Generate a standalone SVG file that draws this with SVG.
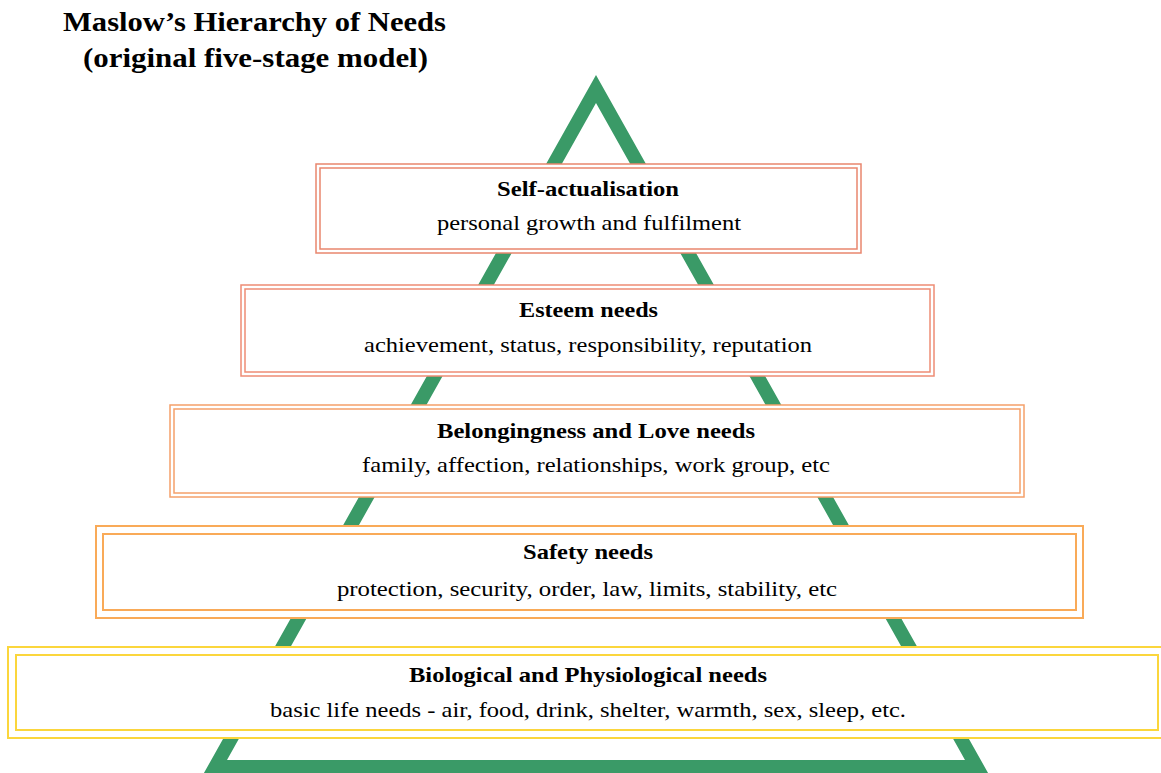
<svg xmlns="http://www.w3.org/2000/svg" width="1161" height="773" viewBox="0 0 1161 773">
<style>
text{font-family:'Liberation Serif','Times New Roman',Times,serif;fill:#000;text-anchor:middle}
.t{font-weight:bold;font-size:21px}
.s{font-weight:normal;font-size:21px}
.h{font-weight:bold;font-size:27px}
.o{fill:#fff}
.i{fill:none}
</style>
<rect width="1161" height="773" fill="#fff"/>
<g id="title" font-family="Liberation Serif, serif">
<text class="h" x="254.5" y="31" textLength="383" lengthAdjust="spacingAndGlyphs">Maslow’s Hierarchy of Needs</text>
<text class="h" x="255.5" y="67" textLength="345" lengthAdjust="spacingAndGlyphs">(original five-stage model)</text>
</g>
<g id="pyramid">
<path d="M596 75 L200 780 L992 780 Z M596 103 L227 760 L965 760 Z" fill="#3A9A67" fill-rule="evenodd"/>
</g>
<g id="self-actualisation">
<rect class="o" x="316" y="164" width="545" height="89" stroke="#E9866E" stroke-width="1.5"/>
<rect class="i" x="320" y="168" width="537" height="81" stroke="#E9866E" stroke-width="1.5"/>
<text class="t" x="588" y="196" textLength="182" lengthAdjust="spacingAndGlyphs">Self-actualisation</text>
<text class="s" x="589" y="230" textLength="304" lengthAdjust="spacingAndGlyphs">personal growth and fulfilment</text>
</g>
<g id="esteem">
<rect class="o" x="241" y="285" width="693" height="91" stroke="#EE8C74" stroke-width="1.5"/>
<rect class="i" x="245" y="289" width="685" height="83" stroke="#EE8C74" stroke-width="1.5"/>
<text class="t" x="588.5" y="317" textLength="139" lengthAdjust="spacingAndGlyphs">Esteem needs</text>
<text class="s" x="588" y="352" textLength="448" lengthAdjust="spacingAndGlyphs">achievement, status, responsibility, reputation</text>
</g>
<g id="belongingness">
<rect class="o" x="170" y="405" width="854" height="92" stroke="#F5A06A" stroke-width="1.5"/>
<rect class="i" x="174" y="409" width="846" height="84" stroke="#F5A06A" stroke-width="1.5"/>
<text class="t" x="596" y="438" textLength="318" lengthAdjust="spacingAndGlyphs">Belongingness and Love needs</text>
<text class="s" x="596" y="472" textLength="468" lengthAdjust="spacingAndGlyphs">family, affection, relationships, work group, etc</text>
</g>
<g id="safety">
<rect class="o" x="96" y="526" width="987" height="92" stroke="#F9AA58" stroke-width="2"/>
<rect class="i" x="103" y="534" width="973" height="76" stroke="#F9AA58" stroke-width="2"/>
<text class="t" x="588" y="559" textLength="130" lengthAdjust="spacingAndGlyphs">Safety needs</text>
<text class="s" x="587" y="596" textLength="500" lengthAdjust="spacingAndGlyphs">protection, security, order, law, limits, stability, etc</text>
</g>
<g id="biological">
<rect class="o" x="8" y="647" width="1160" height="91" stroke="#FBD63C" stroke-width="2"/>
<rect class="i" x="16" y="655" width="1142" height="75" stroke="#FBD63C" stroke-width="2"/>
<text class="t" x="588" y="682" textLength="358" lengthAdjust="spacingAndGlyphs">Biological and Physiological needs</text>
<text class="s" x="588" y="717" textLength="636" lengthAdjust="spacingAndGlyphs">basic life needs - air, food, drink, shelter, warmth, sex, sleep, etc.</text>
</g>
</svg>
